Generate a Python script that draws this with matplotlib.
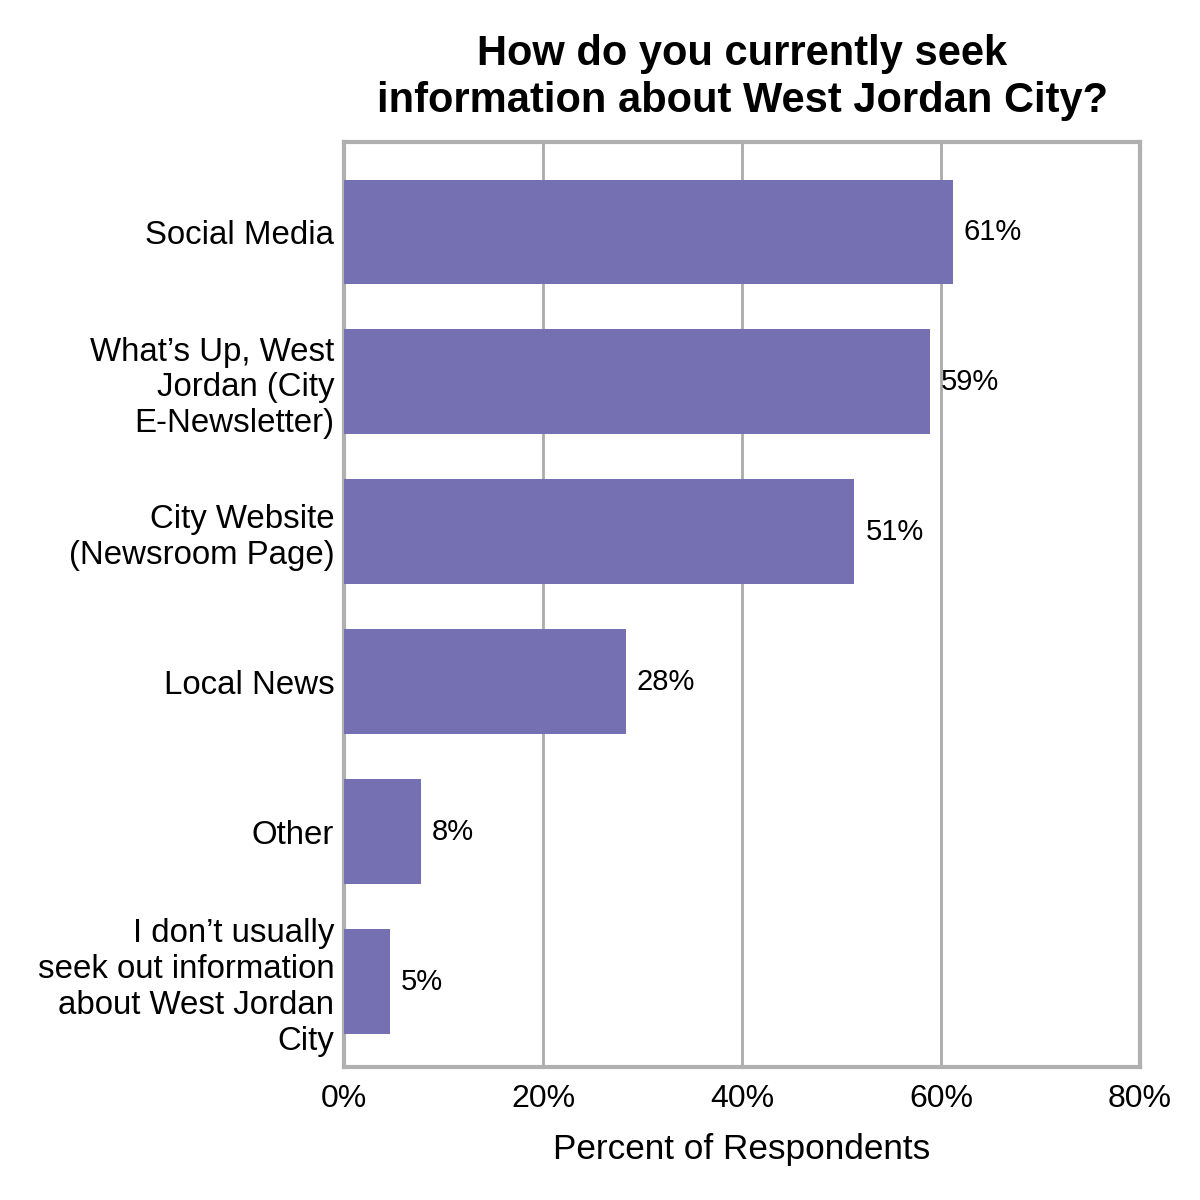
import matplotlib.pyplot as plt
import numpy as np

plt.rcParams['font.family'] = ['Liberation Sans', 'DejaVu Sans']

# Data
categories = [
    'Social Media',
    'What\u2019s Up, West\nJordan (City\nE-Newsletter)',
    'City Website\n(Newsroom Page)',
    'Local News',
    'Other',
    'I don\u2019t usually\nseek out information\nabout West Jordan\nCity',
]
values = [61.2, 58.9, 51.3, 28.3, 7.7, 4.6]
value_labels = ['61%', '59%', '51%', '28%', '8%', '5%']
x_ticks = [0, 20, 40, 60, 80]
x_ticklabels = ['0%', '20%', '40%', '60%', '80%']

fig = plt.figure(figsize=(12, 12), dpi=100, facecolor='white')
ax = fig.add_axes([0.2867, 0.1108, 0.6633, 0.7708])

y = np.arange(len(categories))
ax.barh(y, values, height=0.7, color='#7570B2', zorder=3)

# value labels to the right of each bar
for yi, v, lab in zip(y, values, value_labels):
    ax.text(v + 1.1, yi, lab, ha='left', va='center', fontsize=21, color='black')

ax.set_ylim(len(categories) - 0.43, -0.6)
ax.set_xlim(0, 80)
ax.set_yticks(y)
ax.set_yticklabels(categories, fontsize=23.8, linespacing=1.2)
ax.set_xticks(x_ticks)
ax.set_xticklabels(x_ticklabels, fontsize=23)
ax.tick_params(axis='y', length=0, pad=7)
ax.tick_params(axis='x', length=0, pad=12)

ax.xaxis.grid(True, color='#AAAAAA', linewidth=2, zorder=0)
ax.set_axisbelow(True)
for s in ax.spines.values():
    s.set_color('#B0B0B0')
    s.set_linewidth(3)

ax.set_xlabel('Percent of Respondents', fontsize=25.3, labelpad=14)
ax.set_title('How do you currently seek\ninformation about West Jordan City?',
             fontsize=30, fontweight='bold', pad=22, linespacing=1.22)

plt.savefig('out.png', dpi=100, facecolor='white')
plt.close()
